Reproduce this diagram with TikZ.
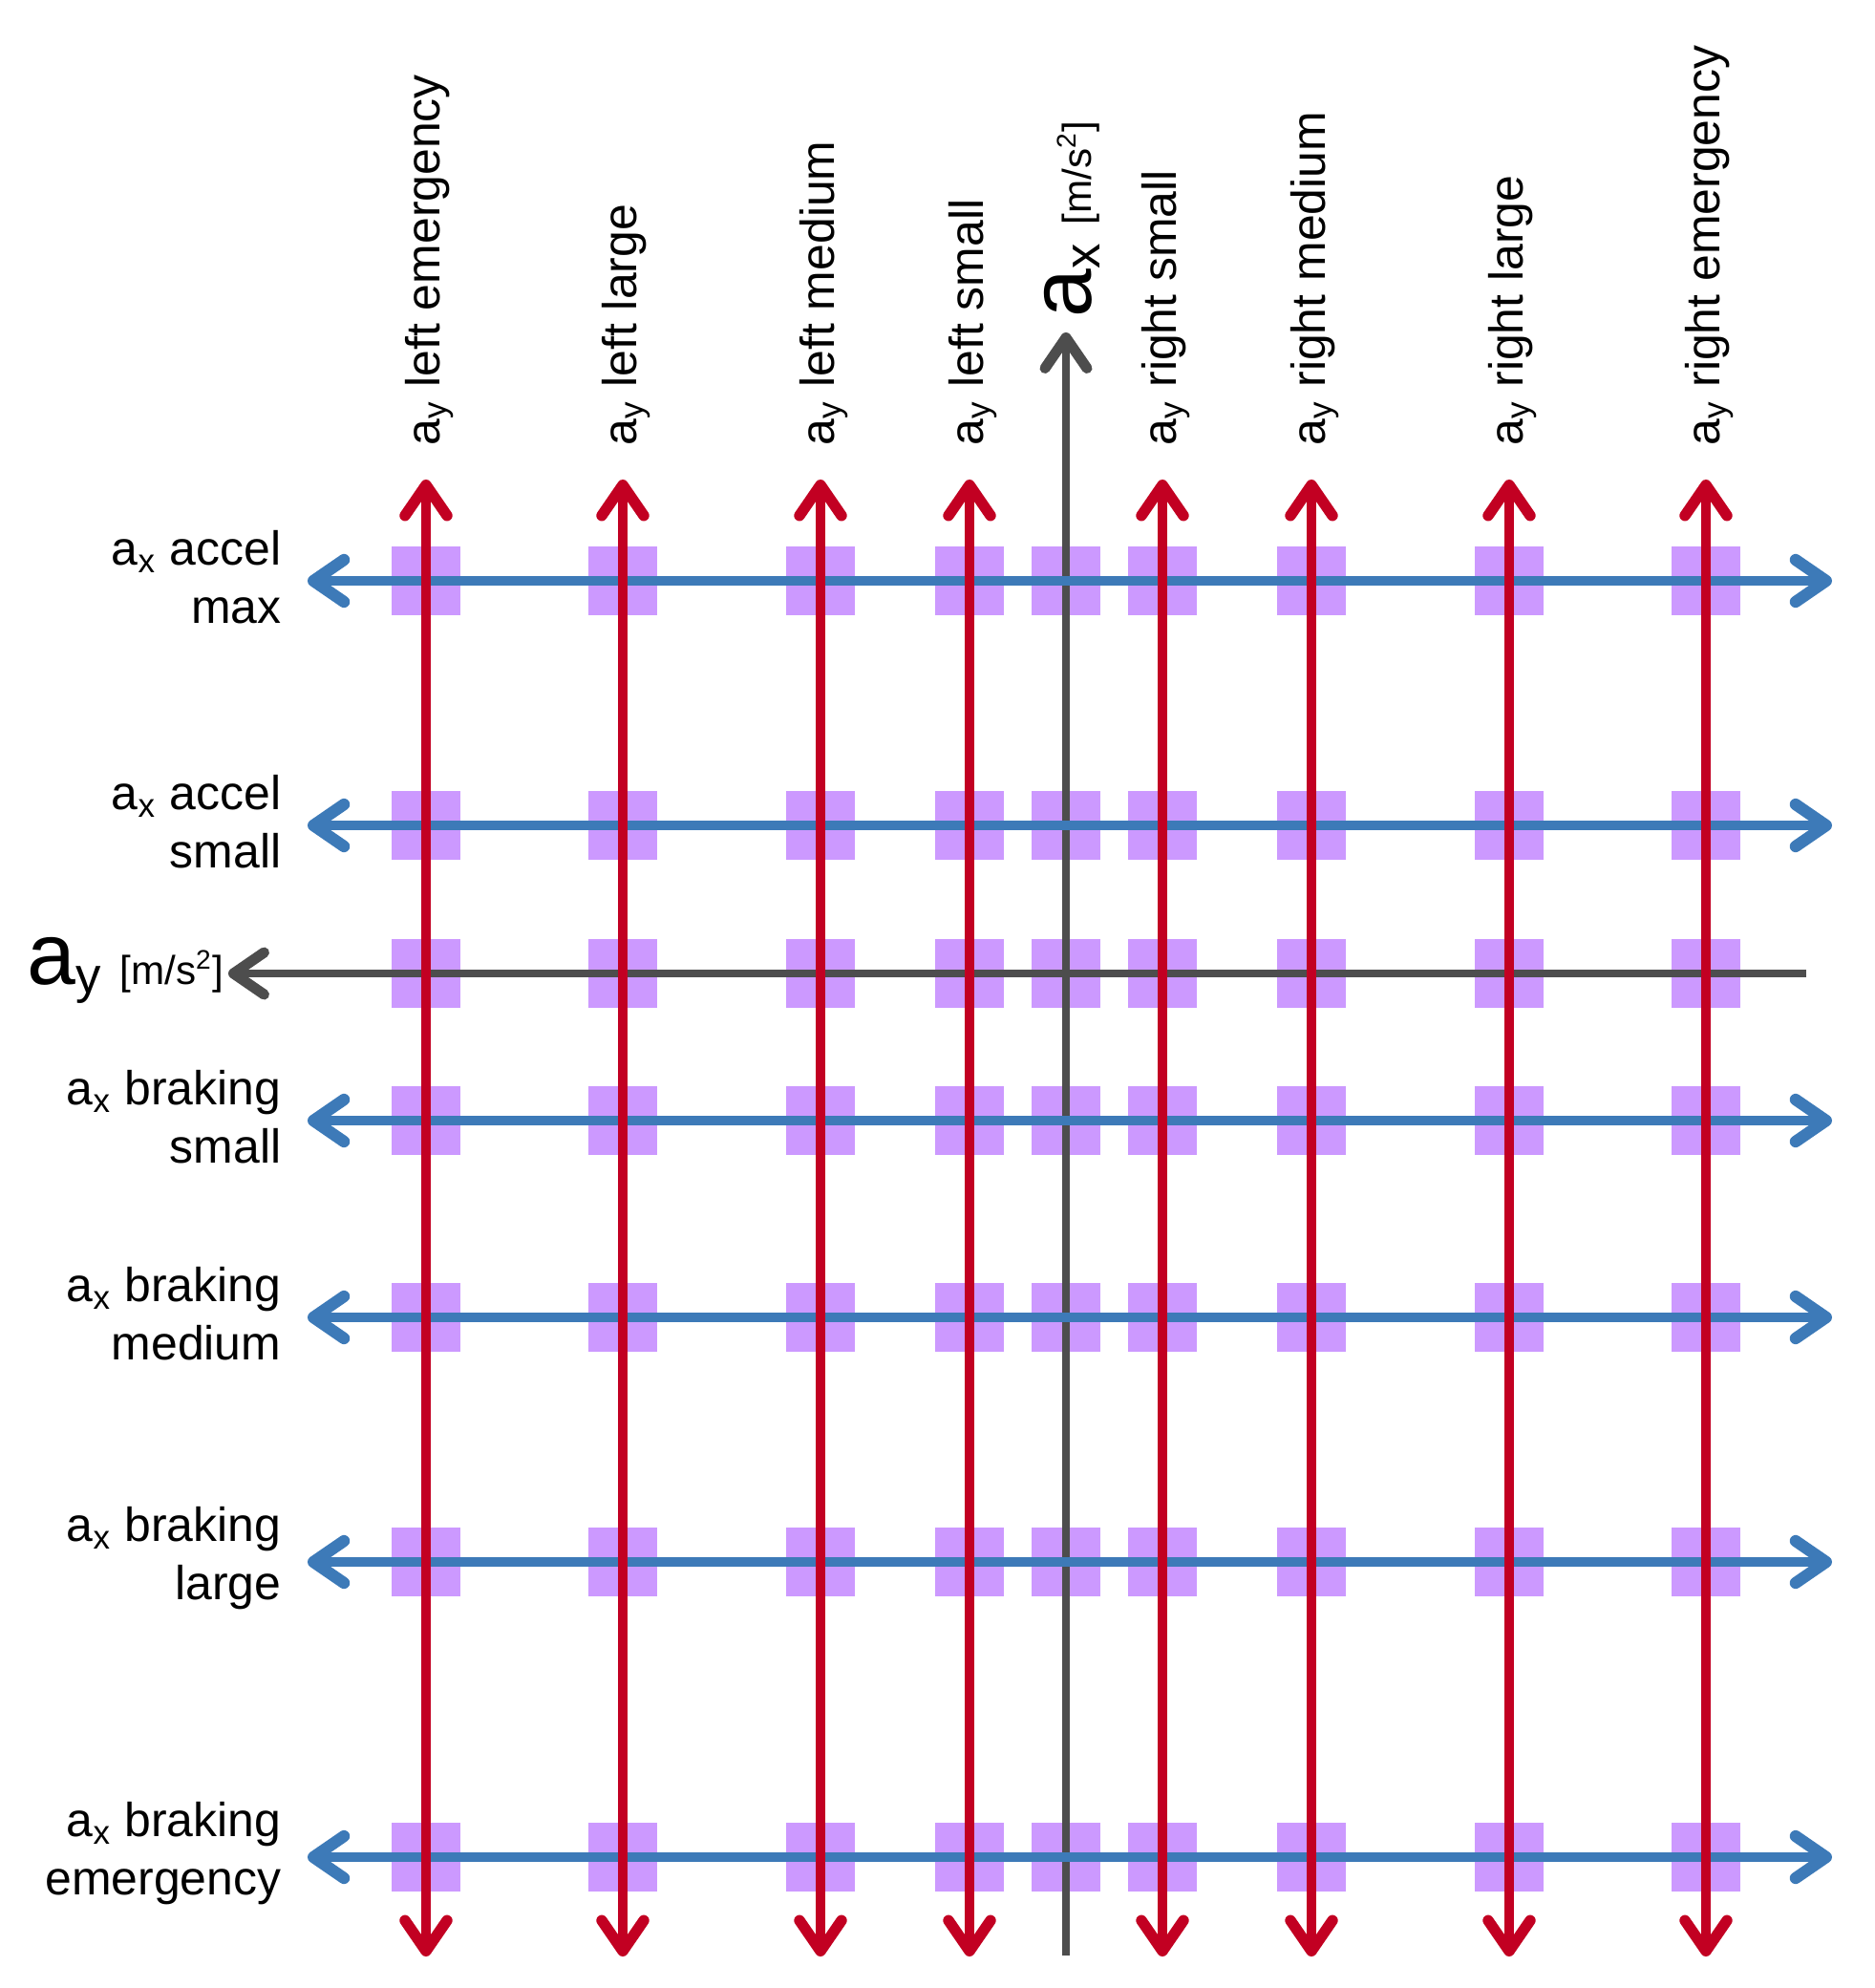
\documentclass[tikz,border=0pt]{standalone}
\usepackage{fontspec}
\setmainfont{Liberation Sans}
\usetikzlibrary{arrows.meta}

\definecolor{latred}{HTML}{C20022}
\definecolor{lonblue}{HTML}{3D7AB8}
\definecolor{cellviolet}{HTML}{CC99FF}
\definecolor{axisgray}{HTML}{4D4D4D}

\newcommand{\axislabel}[1]{{\fontsize{26pt}{26pt}\selectfont a}\raisebox{-0.09cm}{\fontsize{15pt}{15pt}\selectfont #1}\hspace{0.2cm}{\fontsize{12pt}{12pt}\selectfont [m/s\textsuperscript{2}]}}

\tikzset{
  tipbarb/.tip={Straight Barb[length=0.32cm,width=0.44cm,line width=0pt 1.25,round]},
  latline/.style={draw=latred,line width=2.6pt,tipbarb-tipbarb},
  lonline/.style={draw=lonblue,line width=2.8pt,tipbarb-tipbarb},
  axisline/.style={draw=axisgray,line width=2.5pt,-tipbarb},
  cell/.style={fill=cellviolet,draw=none,inner sep=0pt,minimum size=0.72cm},
  rowlabel/.style={anchor=east,align=right,inner sep=0pt,yshift=0.04cm,font=\fontsize{14.2pt}{17.3pt}\selectfont},
  collabel/.style={anchor=base west,rotate=90,inner sep=0pt,font=\fontsize{14.2pt}{17.3pt}\selectfont},
  axislab/.style={inner sep=0pt}
}

\begin{document}
\begin{tikzpicture}
\useasboundingbox (0,0) rectangle (19.63,-20.81);

%cells
\foreach \x [count=\i] in {4.46,6.52,8.59,10.15,11.16,12.17,13.73,15.80,17.86}
  \foreach \y [count=\j] in {6.08,8.64,10.19,11.73,13.79,16.35,19.44}
    \node[cell] (c-\i-\j) at (\x,-\y) {};

% axes
\coordinate (ayend) at (18.91,-10.19);
\coordinate (aytip) at (2.39,-10.19);
\coordinate (axend) at (11.16,-20.47);
\coordinate (axtip) at (11.16,-3.48);
\draw[axisline] (ayend) -- (aytip);
\draw[axisline] (axend) -- (axtip);

% longitudinal levels
\foreach \y [count=\j] in {6.08,8.64,11.73,13.79,16.35,19.44}{
  \coordinate (lonL-\j) at (3.22,-\y);
  \coordinate (lonR-\j) at (19.18,-\y);
  \draw[lonline] (lonL-\j) -- (lonR-\j);
}

% lateral levels
\foreach \x [count=\i] in {4.46,6.52,8.59,10.15,12.17,13.73,15.80,17.86}{
  \coordinate (latT-\i) at (\x,-5.02);
  \coordinate (latB-\i) at (\x,-20.48);
  \draw[latline] (latB-\i) -- (latT-\i);
}

% row labels
\foreach \y/\txt [count=\j] in {
  6.08/{a\textsubscript{x} accel\\max},
  8.64/{a\textsubscript{x} accel\\small},
  11.73/{a\textsubscript{x} braking\\small},
  13.79/{a\textsubscript{x} braking\\medium},
  16.35/{a\textsubscript{x} braking\\large},
  19.44/{a\textsubscript{x} braking\\emergency}}
  \node[rowlabel] (rowlab-\j) at (2.95,-\y) {\txt};

% column labels
\foreach \x/\txt [count=\i] in {
  4.46/{left emergency},
  6.52/{left large},
  8.59/{left medium},
  10.15/{left small},
  12.17/{right small},
  13.73/{right medium},
  15.80/{right large},
  17.86/{right emergency}}
  \node[collabel] (collab-\i) at (\x+0.14,-4.67) {a\textsubscript{y} \txt};

% axis labels
\node[axislab,anchor=base east] (aylab) at (2.35,-10.30) {\axislabel{y}};
\node[axislab,anchor=base west,rotate=90] (axlab) at (11.42,-3.33) {\axislabel{x}};

\end{tikzpicture}
\end{document}
